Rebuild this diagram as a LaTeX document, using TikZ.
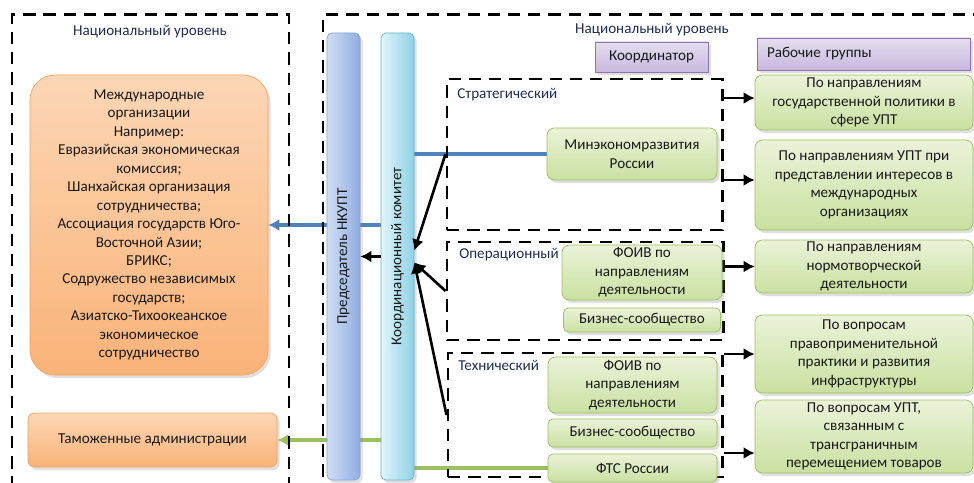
\documentclass[tikz,border=0pt]{standalone}
\usepackage{fontspec}
\setmainfont{Carlito}
\usetikzlibrary{positioning,arrows.meta,shadows,backgrounds}
\definecolor{orc}{rgb}{0.97,0.64,0.38}
\definecolor{ort}{rgb}{0.99,0.84,0.71}
\definecolor{orb}{rgb}{0.98,0.70,0.47}
\definecolor{grc}{rgb}{0.62,0.75,0.37}
\definecolor{grt}{rgb}{0.92,0.95,0.85}
\definecolor{grb}{rgb}{0.79,0.88,0.63}
\definecolor{puc}{rgb}{0.56,0.45,0.69}
\definecolor{put}{rgb}{0.90,0.87,0.94}
\definecolor{pub}{rgb}{0.78,0.72,0.87}
\definecolor{blc}{rgb}{0.31,0.51,0.74}
\definecolor{blt}{rgb}{0.82,0.87,0.96}
\definecolor{blb}{rgb}{0.56,0.68,0.88}
\definecolor{cyc}{rgb}{0.38,0.71,0.81}
\definecolor{cyt}{rgb}{0.88,0.96,0.98}
\definecolor{cyb}{rgb}{0.56,0.82,0.90}
\definecolor{txc}{rgb}{0.13,0.18,0.32}

\begin{document}
\begin{tikzpicture}[x=0.2mm, y=-0.2mm, node distance=16.5mm,
    font=\fontsize{8.6}{10.5}\selectfont, >={Latex[length=2.2mm,width=2.4mm]},
    region/.style={rectangle, draw, line width=1.7pt, dash pattern=on 7pt off 4.5pt, inner sep=0pt},
    shd/.style={drop shadow={shadow xshift=0.5mm, shadow yshift=-0.6mm, opacity=0.25}},
    orbox/.style={rectangle, draw=orc, top color=ort, bottom color=orb, align=center, text=black!90, shd},
    grbox/.style={rectangle, draw=grc, top color=grt, bottom color=grb, rounded corners=1.5mm, align=center, text=black!90, inner ysep=0.5pt, shd},
    pubox/.style={rectangle, draw=puc, top color=put, bottom color=pub, text=black!90, shd},
    bar/.style={rectangle, rotate=90, minimum width=89.4mm, minimum height=6.6mm, rounded corners=1mm, inner sep=0pt, text=black!90, shd},
    lbl/.style={text=txc, inner sep=0pt},
    conn/.style={line width=1.5pt},
    band/.style={line width=1.9pt}]

    \clip (0,0) rectangle (974,483);

    % dashed levels
    \node[region, minimum width=55.4mm, minimum height=96mm] (natl) at (150.5,255) {};
    \node[region, minimum width=133.4mm, minimum height=96mm] (natr) at (656.5,255) {};
    \node[region, minimum width=55mm, minimum height=30.2mm] (strat) at (584.5,154.5) {};
    \node[region, minimum width=55.2mm, minimum height=19.6mm] (oper) at (585,291) {};
    \node[region, minimum width=54.8mm, minimum height=24.8mm] (tekh) at (585,415) {};

    \node[lbl] (ttl) at (150,32) {Национальный уровень};
    \node[lbl] (ttr) at (652,30) {Национальный уровень};
    \node[lbl, anchor=west] (lstrat) at (457,95) {Стратегический};
    \node[lbl, anchor=west] (loper) at (459,255) {Операционный};
    \node[lbl, anchor=west] (ltekh) at (458,365) {Технический};

    % left side
    \node[orbox, rounded corners=5mm, minimum width=47.6mm, minimum height=60mm] (mezh) at (149,225)
        {Международные\\организации\\Например:\\Евразийская экономическая\\комиссия;\\Шанхайская организация\\сотрудничества;\\Ассоциация государств Юго-\\Восточной Азии;\\БРИКС;\\Содружество независимых\\государств;\\Азиатско-Тихоокеанское\\экономическое\\сотрудничество};
    \node[orbox, rounded corners=1.3mm, minimum width=49.8mm, minimum height=10.8mm] (tam) at (152.5,440) {Таможенные администрации};

    % bars
    \node[bar, draw=blb!80!blc, left color=blt, right color=blb] (pred) at (343.5,256.5) {Председатель НКУПТ};
    \node[bar, draw=cyc, left color=cyt, right color=cyb] (komit) at (397.5,256.5) {Координационный комитет};

    % coordinator and groups
    \node[pubox, minimum width=22.6mm, minimum height=6mm] (koord) at (651.5,57) {Координатор};
    \node[pubox, minimum height=6.4mm, text width=38.6mm, inner xsep=2mm, align=left] (rab) at (863.5,54) {Рабочие группы};

    \node[grbox, minimum width=34mm, minimum height=10.4mm] (minek) at (632,154) {Минэкономразвития\\России};
    \node[grbox, minimum width=32mm, minimum height=11mm] (foiv1) at (642,272.5) {ФОИВ по\\направлениям\\деятельности};
    \node[grbox, rounded corners=1mm, minimum width=31.4mm, minimum height=4.8mm, below of=foiv1, node distance=9.5mm] (biz1) {Бизнес-сообщество};
    \node[grbox, minimum width=33.8mm, minimum height=11.2mm] (foiv2) at (632.5,385) {ФОИВ по\\направлениям\\деятельности};
    \node[grbox, rounded corners=1mm, minimum width=33.8mm, minimum height=5.6mm, below of=foiv2, node distance=9.6mm] (biz2) {Бизнес-сообщество};
    \node[grbox, rounded corners=1mm, minimum width=33.8mm, minimum height=5.6mm, below of=biz2, node distance=7mm] (fts) {ФТС России};

    \node[grbox, minimum width=43.6mm, minimum height=11mm] (wg1) at (864,102.5) {По направлениям\\государственной политики в\\сфере УПТ};
    \node[grbox, minimum width=43.6mm, minimum height=18mm, below of=wg1] (wg2) {По направлениям УПТ при\\представлении интересов в\\международных\\организациях};
    \node[grbox, minimum width=43.6mm, minimum height=10.6mm, below of=wg2, node distance=16.3mm] (wg3) {По направлениям\\нормотворческой\\деятельности};
    \node[grbox, minimum width=43.6mm, minimum height=15.6mm, below of=wg3, node distance=17.5mm] (wg4) {По вопросам\\правоприменительной\\практики и развития\\инфраструктуры};
    \node[grbox, minimum width=43.6mm, minimum height=14.6mm, below of=wg4] (wg5) {По вопросам УПТ,\\связанным с\\трансграничным\\перемещением товаров};

    \coordinate[above=0.9mm of wg1.west] (w1in);
    \coordinate[above=1mm of wg2.west] (w2in);
    \coordinate[below=3.3mm of wg5.west] (w5in);
    \coordinate[above=1.2mm of komit.south] (kin1);
    \coordinate[below=1.2mm of komit.south] (kin2);

    % lines behind the bars
    \begin{scope}[on background layer]
      \draw[band, blc] (minek.west) -- (komit.south |- minek.west);
      \draw[band, ->, blc] (komit.north |- mezh.east) -- (mezh.east);
      \draw[band, ->, grc] (komit.north |- tam.east) -- (tam.east);
      \draw[band, grc] (fts.west) -- (komit.south |- fts.west);
    \end{scope}

    \draw[conn, ->] (komit.north) -- (pred.south);
    \draw[conn, ->] (strat.west |- minek.west) -- (kin1);
    \draw[conn, ->] (oper.west) -- (kin2);
    \draw[conn, ->] (tekh.west) -- (kin2);

    \draw[conn, ->] (strat.east |- w1in) -- (w1in);
    \draw[conn, ->] (strat.east |- w2in) -- (w2in);
    \draw[conn, ->] (oper.east |- wg3.west) -- (wg3.west);
    \draw[conn, ->] (tekh.north east |- wg4.west) -- (wg4.west);
    \draw[conn, ->] (tekh.east |- w5in) -- (w5in);

\end{tikzpicture}
\end{document}
